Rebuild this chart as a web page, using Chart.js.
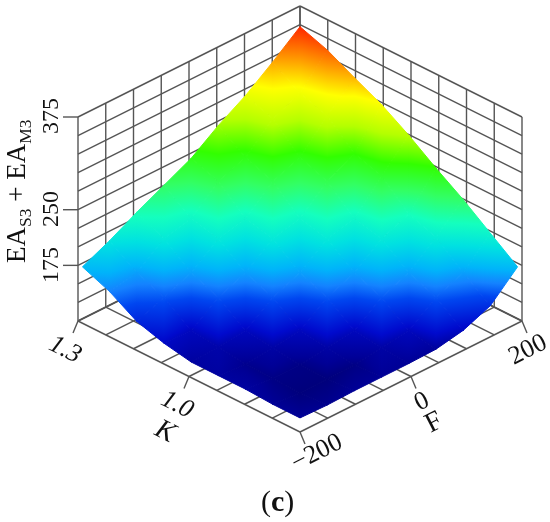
<!DOCTYPE html>
<html>
<head>
<meta charset="utf-8">
<style>
  html, body { margin: 0; padding: 0; background: #fff; }
  canvas { display: block; }
</style>
<script src="https://cdn.jsdelivr.net/npm/chart.js@4"></script>
</head>
<body>
<canvas id="surfaceChart" width="550" height="522"></canvas>
<script>
// axis ticks (grid lines of the box)
const fTicks = [-200, -150, -100, -50, 0, 50, 100, 150, 200];
const kTicks = [1.3, 1.225, 1.15, 1.075, 1.0, 0.925, 0.85, 0.775, 0.7];
const zTicks = [100, 125, 150, 175, 200, 225, 250, 275, 300, 325, 350, 375];

// surface samples
const surfaceF = [-196, -147, -98, -49, 0, 49, 98, 147, 196];
const surfaceK = [1.294, 1.2205, 1.147, 1.0735, 1.0, 0.9265, 0.853, 0.7795, 0.706];
const surfaceZ = [
    [173, 190, 210, 228, 246, 272, 294, 321, 350],
    [158, 165, 193, 202, 233, 247, 281, 297, 337],
    [136, 150, 165, 193, 202, 233, 247, 285, 318],
    [125, 124, 150, 165, 193, 202, 233, 252, 300],
    [118, 120, 124, 150, 165, 193, 202, 240, 277],
    [118, 115, 119, 124, 150, 165, 193, 208, 251],
    [118, 114, 114, 119, 124, 150, 165, 195, 227],
    [116, 113, 113, 114, 119, 124, 150, 165, 200],
    [116, 115, 116, 116, 116, 117, 124, 139, 173]
];

// colour map of the surface
const mapZ = [112, 116, 127, 147, 158, 170, 188, 207, 228, 252, 276, 302, 325, 350];
const mapRGB = [
    [0, 0, 115], [0, 0, 150], [0, 10, 205], [0, 70, 240], [20, 130, 255], [0, 180, 250], [0, 225, 225],
    [20, 255, 190], [50, 255, 100], [50, 255, 0], [180, 255, 0], [255, 255, 0], [255, 150, 0], [255, 40, 0]
];

const zLabels = ['375', '250', '175'];
const kLabels = ['1.3', '1.0'];
const fLabels = ['\u2212200', '0', '200'];

const serif = '"Liberation Serif", "Times New Roman", serif';
const gridColor = '#555555';

// box projection: F runs up-right, K runs down-right, Z runs straight up
function project(f, k, z) {
    const a = (f + 200) / 400;
    const b = (1.3 - k) / 0.6;
    return {
        x: 78 + 222 * (a + b),
        y: 321 + 111 * (b - a) - (z - 100) * 204 / 275
    };
}

function colorAt(z) {
    let n = 0;
    while (n < mapZ.length - 2 && z > mapZ[n + 1]) n++;
    const t = Math.min(1, Math.max(0, (z - mapZ[n]) / (mapZ[n + 1] - mapZ[n])));
    const c = mapRGB[n].map((v, i) => Math.round(v + (mapRGB[n + 1][i] - v) * t));
    return 'rgb(' + c.join(',') + ')';
}

// a triangle with a linear z gets the colour map as a linear gradient along its z slope
function triangleGradient(chart, tri) {
    const sx = chart.scales.x, sy = chart.scales.y;
    const p = tri.map(v => ({ x: sx.getPixelForValue(v.x), y: sy.getPixelForValue(v.y), z: v.z }));
    p.sort((m, n) => m.z - n.z);
    const zMin = p[0].z, zMax = p[2].z;
    if (zMax - zMin < 0.01) return colorAt(zMin);
    const ux = p[1].x - p[0].x, uy = p[1].y - p[0].y, uz = p[1].z - p[0].z;
    const vx = p[2].x - p[0].x, vy = p[2].y - p[0].y, vz = p[2].z - p[0].z;
    const det = ux * vy - vx * uy;
    const gx = (uz * vy - vz * uy) / det;
    const gy = (ux * vz - vx * uz) / det;
    const len = (zMax - zMin) / (gx * gx + gy * gy);
    const x2 = p[0].x + gx * len, y2 = p[0].y + gy * len;
    // scales have no pixels yet on the first pass, before layout
    if (!isFinite(p[0].x) || !isFinite(p[0].y) || !isFinite(x2) || !isFinite(y2)) return colorAt(zMin);
    const grad = chart.ctx.createLinearGradient(p[0].x, p[0].y, x2, y2);
    grad.addColorStop(0, colorAt(zMin));
    mapZ.forEach(z => {
        if (z > zMin && z < zMax) grad.addColorStop((z - zMin) / (zMax - zMin), colorAt(z));
    });
    grad.addColorStop(1, colorAt(zMax));
    return grad;
}

const datasets = [];

function addTriangle(v1, v2, v3) {
    const tri = [v1, v2, v3];
    const paint = ctx => triangleGradient(ctx.chart, tri);
    datasets.push({
        data: [v1, v2, v3, v1],
        showLine: true,
        fill: 'shape',
        pointRadius: 0,
        borderWidth: 1,
        backgroundColor: paint,
        borderColor: paint
    });
}

function addLine(p1, p2, width) {
    datasets.push({
        data: [p1, p2],
        showLine: true,
        fill: false,
        pointRadius: 0,
        borderWidth: width || 1.4,
        borderColor: gridColor
    });
}

function shifted(p, dx, dy) {
    return { x: p.x + dx, y: p.y + dy };
}

// surface first: chart.js paints the first dataset on top
surfaceK.forEach((k, j) => {
    if (j === surfaceK.length - 1) return;
    surfaceF.forEach((f, i) => {
        if (i === surfaceF.length - 1) return;
        const vertex = (m, n) => {
            const z = surfaceZ[n][m];
            return Object.assign(project(surfaceF[m], surfaceK[n], z), { z: z });
        };
        addTriangle(vertex(i, j), vertex(i + 1, j), vertex(i, j + 1));
        addTriangle(vertex(i + 1, j), vertex(i + 1, j + 1), vertex(i, j + 1));
    });
});

const fMin = fTicks[0], fMax = fTicks[8], kLow = kTicks[0], kHigh = kTicks[8];
const zMin = zTicks[0], zMax = zTicks[11];

// floor and the two back walls
fTicks.forEach(f => {
    addLine(project(f, kLow, zMin), project(f, kHigh, zMin));
    addLine(project(f, kLow, zMin), project(f, kLow, zMax));
});
kTicks.forEach(k => {
    addLine(project(fMin, k, zMin), project(fMax, k, zMin));
    addLine(project(fMax, k, zMin), project(fMax, k, zMax));
});
zTicks.forEach(z => {
    addLine(project(fMin, kLow, z), project(fMax, kLow, z));
    addLine(project(fMax, kLow, z), project(fMax, kHigh, z));
});

// outer tick marks
[375, 250, 175].forEach(z => {
    const p = project(fMin, kLow, z);
    addLine(p, shifted(p, -15, 0));
});
[1.3, 1.0].forEach(k => {
    const p = project(fMin, k, zMin);
    addLine(p, shifted(p, -5, 12));
});
[-200, 0, 200].forEach(f => {
    const p = project(f, kHigh, zMin);
    addLine(p, shifted(p, 5, 12));
});

function drawText(ctx, text, x, y, angle, font) {
    ctx.save();
    ctx.translate(x, y);
    ctx.rotate(angle * Math.PI / 180);
    ctx.font = font;
    ctx.fillStyle = '#111';
    ctx.textAlign = 'center';
    ctx.textBaseline = 'middle';
    ctx.fillText(text, 0, 0);
    ctx.restore();
}

// text runs along one baseline, with lowered small pieces for the subscripts
function drawRuns(ctx, runs, x, y, angle) {
    ctx.save();
    ctx.translate(x, y);
    ctx.rotate(angle * Math.PI / 180);
    ctx.fillStyle = '#111';
    ctx.textAlign = 'left';
    ctx.textBaseline = 'alphabetic';
    let pos = 0;
    runs.forEach(r => {
        ctx.font = r.font;
        ctx.fillText(r.text, pos, r.drop || 0);
        pos += ctx.measureText(r.text).width;
    });
    ctx.restore();
}

const textPlugin = {
    id: 'boxText',
    afterDraw(chart) {
        const ctx = chart.ctx;
        const tick = '24px ' + serif;
        const slanted = '26px ' + serif;
        const italic = 'italic 26px ' + serif;
        const zY = [116, 209, 265];
        zLabels.forEach((t, i) => drawText(ctx, t, 52, zY[i], -90, tick));
        const kPos = [[65, 350], [177, 405]];
        kLabels.forEach((t, i) => drawText(ctx, t, kPos[i][0], kPos[i][1], 27, italic));
        const fPos = [[317, 453], [422, 402], [528, 350]];
        fLabels.forEach((t, i) => drawText(ctx, t, fPos[i][0], fPos[i][1], -27, slanted));
        drawText(ctx, 'K', 165, 432, 27, 'italic 28px ' + serif);
        drawText(ctx, 'F', 434, 423, -27, '28px ' + serif);
        const big = '27px ' + serif, sub = '17.5px ' + serif;
        drawRuns(ctx, [
            { text: 'EA', font: big },
            { text: 'S3', font: sub, drop: 6 },
            { text: ' + EA', font: big },
            { text: 'M3', font: sub, drop: 6 }
        ], 25, 263, -90);
        drawRuns(ctx, [
            { text: '(', font: '30px ' + serif },
            { text: 'c', font: 'bold 30px ' + serif },
            { text: ')', font: '30px ' + serif }
        ], 261, 511, 0);
    }
};

new Chart(document.getElementById('surfaceChart'), {
    type: 'scatter',
    data: { datasets: datasets },
    options: {
        responsive: false,
        animation: false,
        layout: { padding: 0 },
        plugins: { legend: { display: false }, tooltip: { enabled: false } },
        scales: {
            x: { type: 'linear', display: false, min: 0, max: 550 },
            y: { type: 'linear', display: false, min: 0, max: 522, reverse: true }
        }
    },
    plugins: [textPlugin]
});
</script>
</body>
</html>
